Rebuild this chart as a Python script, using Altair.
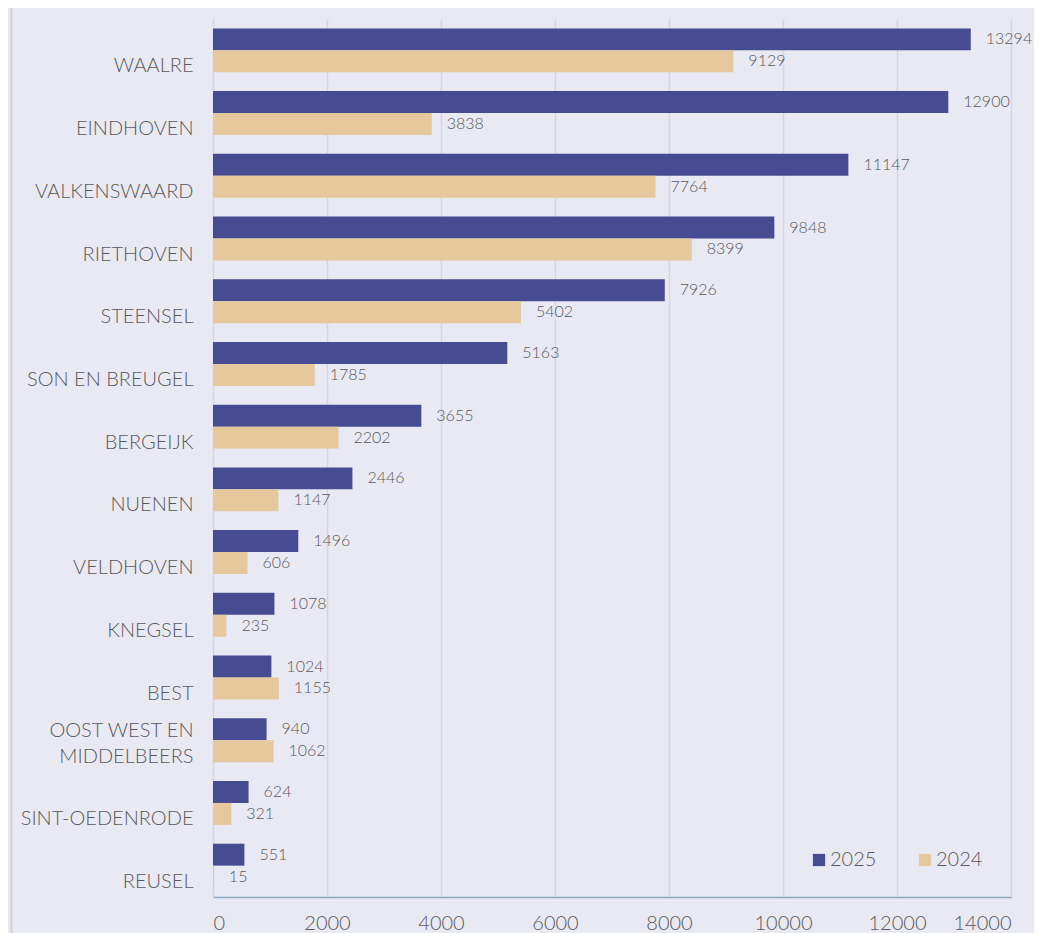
import altair as alt
import pandas as pd

cities = ["WAALRE", "EINDHOVEN", "VALKENSWAARD", "RIETHOVEN", "STEENSEL",
          "SON EN BREUGEL", "BERGEIJK", "NUENEN", "VELDHOVEN", "KNEGSEL",
          "BEST", "OOST WEST EN|MIDDELBEERS", "SINT-OEDENRODE", "REUSEL"]
v2025 = [13294, 12900, 11147, 9848, 7926, 5163, 3655, 2446, 1496, 1078, 1024, 940, 624, 551]
v2024 = [9129, 3838, 7764, 8399, 5402, 1785, 2202, 1147, 606, 235, 1155, 1062, 321, 15]
series = ["2025", "2024"]
colors = ["#474B91", "#E5C89B"]

rows = []
for c, a, b in zip(cities, v2025, v2024):
    rows.append({"city": c, "year": "2025", "value": a})
    rows.append({"city": c, "year": "2024", "value": b})
df = pd.DataFrame(rows)

FONT = "Lato"
TXT = "#595959"

y_enc = alt.Y("city:N", sort=cities,
              scale=alt.Scale(paddingInner=0.3, paddingOuter=0.15),
              axis=alt.Axis(title=None, domain=False, ticks=False,
                            labelFontSize=20, labelColor=TXT, labelFont=FONT,
                            labelFontWeight=300,
                            labelPadding=20, labelBaseline="middle",
                            labelOffset={"condition": {"test": "indexof(datum.value, '|') >= 0",
                                                       "value": -9},
                                         "value": 16},
                            labelLineHeight=26,
                            labelExpr="split(datum.label, '|')"))
x_enc = alt.X("value:Q", scale=alt.Scale(domain=[0, 14000], nice=False),
              axis=alt.Axis(title=None, values=list(range(0, 14001, 2000)),
                            format="d",
                            grid=True, gridColor="#D6D6DC", gridWidth=1.5,
                            domainColor="#8FA9BE", domainWidth=1.5,
                            ticks=False, labelPadding=16,
                            labelFontSize=20, labelColor=TXT, labelFont=FONT,
                            labelFontWeight=300))
yoff = alt.YOffset("year:N", sort=series)

bars = alt.Chart(df).mark_bar(strokeWidth=0).encode(
    y=y_enc, x=x_enc, yOffset=yoff,
    color=alt.Color("year:N", sort=series,
                    scale=alt.Scale(domain=series, range=colors),
                    legend=alt.Legend(title=None, orient="none", direction="horizontal",
                                      legendX=596, legendY=831,
                                      symbolType="square", symbolSize=150,
                                      symbolStrokeWidth=0,
                                      labelFontSize=20, labelColor=TXT, labelFont=FONT,
                                      labelFontWeight=300,
                                      labelOffset=1, columnPadding=38)),
)

labels = alt.Chart(df).mark_text(align="left", baseline="middle", dx=15,
                                 fontSize=16, color=TXT, font=FONT, fontWeight=300).encode(
    y=alt.Y("city:N", sort=cities), x="value:Q", yOffset=yoff,
    text="value:Q",
)

border = alt.Chart(pd.DataFrame({"a": [0]})).mark_rule(color="#D2D2D8", strokeWidth=2).encode(
    x=alt.value(-201.5), y=alt.value(-11), y2=alt.value(930)
)

chart = alt.layer(border, bars, labels).properties(
    width=798, height=878,
    autosize=alt.AutoSizeParams(type="none"),
    padding={"left": 205, "top": 11, "right": 23, "bottom": 36},
    background="#E9E9F4",
).configure_view(stroke=None)

chart.save("out.html", embed_options={"renderer": "svg", "actions": False})
